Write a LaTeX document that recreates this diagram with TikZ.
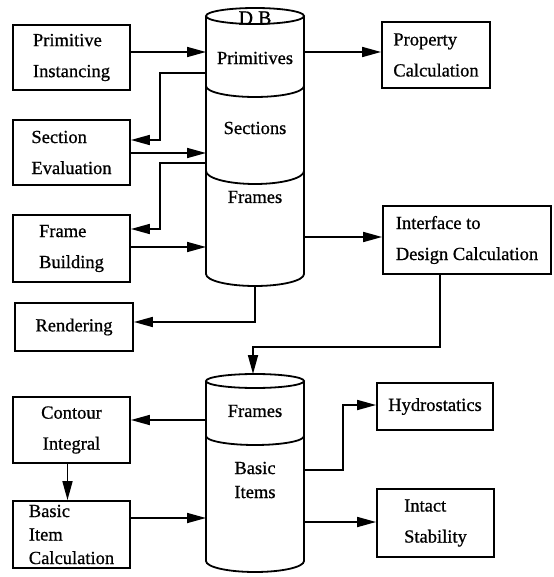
\documentclass[tikz,border=0pt]{standalone}
\usepackage{fontspec}
\setmainfont{Liberation Serif}[FakeBold=0.8]
\usetikzlibrary{arrows.meta}
\begin{document}
\begin{tikzpicture}[x=1pt,y=-1pt,
  box/.style={draw,line width=1.8pt,align=left,inner sep=0pt,font=\fontsize{18.5}{31}\selectfont},
  lbl/.style={inner sep=0pt,font=\fontsize{18.5}{24}\selectfont,align=center},
  arr/.style={line width=1.7pt,-{Triangle[length=19pt,width=10pt]}},
  cyl/.style={line width=1.8pt}]
\useasboundingbox (0,0) rectangle (553,577);
% ---------- top cylinder ----------
\draw[cyl] (255,16) ellipse [x radius=49, y radius=8];
\draw[cyl] (206,16) -- (206,274) arc[start angle=180,end angle=0,x radius=49,y radius=12] -- (304,16);
\draw[cyl] (206,86) arc[start angle=180,end angle=0,x radius=49,y radius=11];
\draw[cyl] (206,171) arc[start angle=180,end angle=0,x radius=49,y radius=13];
\node[lbl,font=\fontsize{20}{24}\selectfont] (db) at (255,18) {D B};
\node[lbl] (prim) at (255,58) {Primitives};
\node[lbl] (sect) at (255,128) {Sections};
\node[lbl] (fram) at (255,197) {Frames};
% ---------- bottom cylinder ----------
\draw[cyl] (255,381) ellipse [x radius=49, y radius=7];
\draw[cyl] (206,381) -- (206,561) arc[start angle=180,end angle=0,x radius=49,y radius=11] -- (304,381);
\draw[cyl] (206,436) arc[start angle=180,end angle=0,x radius=49,y radius=9];
\node[lbl] (fram2) at (255,411) {Frames};
\node[lbl] (basic) at (255,480) {Basic\\Items};
% ---------- boxes ----------
\node[box,minimum width=117pt,minimum height=65pt] (pi) at (71.5,57.5) {Primitive\\Instancing};
\node[box,minimum width=117pt,minimum height=65pt] (se) at (71.5,152.5) {Section\\Evaluation};
\node[box,minimum width=117pt,minimum height=67pt] (fb) at (71.5,248.5) {Frame\\Building};
\node[box,minimum width=118pt,minimum height=48pt] (rend) at (74,327) {Rendering};
\node[box,minimum width=108pt,minimum height=66pt] (pc) at (436,55) {Property\\Calculation};
\node[box,minimum width=168pt,minimum height=68pt] (idc) at (467,240) {Interface to\\Design Calculation};
\node[box,minimum width=117pt,minimum height=66pt,align=center] (ci) at (71.5,430) {Contour\\Integral};
\node[box,minimum width=117pt,minimum height=67pt,font=\fontsize{18.5}{23.5}\selectfont] (bic) at (71.5,534.5) {Basic\\Item\\Calculation};
\node[box,minimum width=116pt,minimum height=47pt] (hyd) at (435,406.5) {Hydrostatics};
\node[box,minimum width=117pt,minimum height=68pt] (is) at (435.5,523) {Intact\\Stability};
% ---------- connector points ----------
\coordinate (a1) at (206,52);
\coordinate (a2) at (206,73);
\coordinate (k1) at (160,140);
\coordinate (a3) at (206,153);
\coordinate (a4) at (206,163);
\coordinate (k2) at (160,229);
\coordinate (a5) at (206,247);
\coordinate (bot) at (255,286);
\coordinate (k3) at (255,322);
\coordinate (r1) at (304,52);
\coordinate (r2) at (304,237);
\coordinate (k4) at (440,347);
\coordinate (top2) at (253,374);
\coordinate (b1) at (206,420);
\coordinate (b2) at (206,518);
\coordinate (r3) at (304,470);
\coordinate (k5) at (343,405);
\coordinate (r4) at (304,522);
% ---------- connectors ----------
\draw[arr] (pi.east |- a1) -- (a1);
\draw[arr] (a2) -| (k1) -- (se.east |- k1);
\draw[arr] (se.east |- a3) -- (a3);
\draw[arr] (a4) -| (k2) -- (fb.east |- k2);
\draw[arr] (fb.east |- a5) -- (a5);
\draw[arr] (bot) -- (k3) -- (rend.east |- k3);
\draw[arr] (r1) -- (pc.west |- r1);
\draw[arr] (r2) -- (idc.west |- r2);
\draw[arr] (idc.south -| k4) -- (k4) -| (top2);
\draw[arr] (b1) -- (ci.east |- b1);
\draw[arr] ([xshift=-4pt]ci.south) -- ([xshift=-4pt]bic.north);
\draw[arr] (bic.east |- b2) -- (b2);
\draw[arr] (r3) -| (k5) -- (hyd.west |- k5);
\draw[arr] (r4) -- (is.west |- r4);
\end{tikzpicture}
\end{document}
